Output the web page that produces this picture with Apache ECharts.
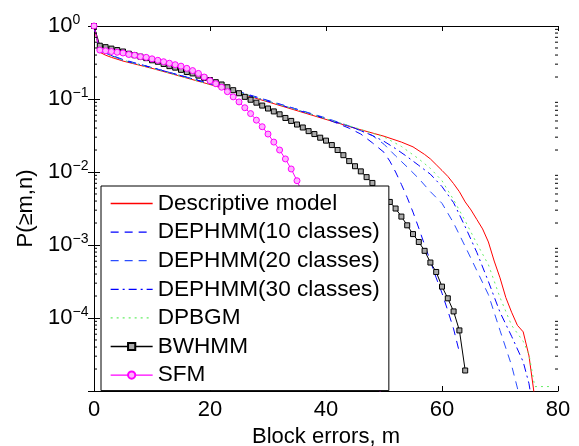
<!DOCTYPE html>
<html>
<head>
<meta charset="utf-8">
<script src="https://cdn.jsdelivr.net/npm/echarts@6/dist/echarts.min.js"></script>
<style>
html, body { margin: 0; padding: 0; background: #fff; }
#chart { width: 579px; height: 446px; }
</style>
</head>
<body>
<div id="chart"></div>
<script>
// values, [m, P(>=m,n)]
var descriptive = [[0,1],[1,0.437],[2,0.398],[3,0.372],[5,0.331],[10,0.263],[15,0.204],[20,0.158],[25,0.120],
  [30,0.0912],[35,0.0692],[40,0.0525],[45,0.0398],[50,0.0309],[53,0.0257],[55,0.0221],[57,0.0174],[58,0.0151],
  [59,0.0126],[60,0.0105],[61,0.00871],[62,0.00692],[63,0.00537],[64,0.00389],[65,0.00302],[66,0.00224],
  [67,0.00166],[68,0.00110],[69,0.000603],[70,0.000355],[71,0.000191],[72,0.000120],[73,0.0000794],
  [74,0.0000646],[75,0.0000302],[76,0.0000079]];

var dephmm10 = [[0,1],[1,0.457],[5,0.347],[10,0.269],[15,0.209],[20,0.162],[25,0.126],[30,0.0955],[35,0.0724],
  [40,0.0537],[44,0.0398],[46,0.0331],[48,0.0251],[50,0.0186],[51,0.0141],[52,0.0100],[53,0.00676],[54,0.00447],
  [55,0.00282],[56,0.00170],[57,0.00100],[58,0.000603],[59,0.000355],[60,0.000219],[61,0.000126],[62,0.0000708],
  [63,0.0000339]];

var dephmm20 = [[0,1],[1,0.457],[5,0.339],[10,0.269],[15,0.209],[20,0.162],[25,0.123],[30,0.0933],[35,0.0724],
  [40,0.0550],[44,0.0427],[48,0.0316],[50,0.0240],[52,0.0166],[54,0.0117],[56,0.00813],[58,0.00537],[60,0.00372],
  [62,0.00200],[64,0.000955],[66,0.000447],[68,0.000209],[70,0.0000676],[72,0.0000224],[73,0.0000110],[74,0.0000050]];

var dephmm30 = [[0,1],[1,0.457],[5,0.339],[10,0.269],[15,0.209],[20,0.162],[25,0.123],[30,0.0933],[35,0.0708],
  [40,0.0537],[45,0.0398],[48,0.0316],[50,0.0263],[52,0.0209],[54,0.0162],[56,0.0123],[58,0.00933],[60,0.00631],
  [62,0.00380],[64,0.00178],[66,0.000794],[68,0.000316],[70,0.000120],[72,0.0000562],[74,0.0000251],[75,0.0000126],
  [76,0.0000040]];

var dpbgm = [[0,1],[1,0.447],[5,0.339],[10,0.263],[15,0.204],[20,0.158],[25,0.123],[30,0.0933],[35,0.0708],
  [40,0.0537],[45,0.0407],[50,0.0302],[53,0.0224],[56,0.0151],[58,0.0112],[60,0.00759],[62,0.00417],[64,0.00214],
  [66,0.00105],[68,0.000537],[70,0.000191],[72,0.0000794],[74,0.0000479],[75,0.0000316],[76,0.0000115],
  [77,0.0000115],[78,0.0000115],[79,0.0000115]];

// one value per block-error count m = 0..64
var bwhmm = [1,0.537,0.513,0.490,0.468,0.447,0.417,0.398,0.380,0.363,0.339,0.324,0.302,0.282,0.269,0.251,
  0.234,0.224,0.209,0.195,0.182,0.170,0.158,0.145,0.132,0.120,0.107,0.0977,0.0891,0.0813,0.0741,0.0676,0.0617,
  0.0550,0.0501,0.0447,0.0407,0.0363,0.0331,0.0295,0.0269,0.0234,0.0200,0.0170,0.0141,0.0120,0.0102,0.00851,
  0.00708,0.00575,0.00468,0.00389,0.00316,0.00245,0.00186,0.00141,0.00110,0.000832,0.000575,0.000427,0.000269,
  0.000186,0.000123,0.0000676,0.0000191];

// m = 0..50
var sfm = [1,0.468,0.457,0.447,0.437,0.427,0.407,0.398,0.380,0.372,0.355,0.339,0.324,0.309,0.295,0.282,0.263,
  0.245,0.224,0.200,0.178,0.162,0.145,0.126,0.107,0.0912,0.0759,0.0631,0.0513,0.0417,0.0331,0.0257,0.0200,0.0151,
  0.0110,0.00759,0.00501,0.00331,0.00219,0.00141,0.000912,0.000589,0.000372,0.000234,0.000145,0.0000891,0.0000550,
  0.0000331,0.0000200,0.0000117,0.0000069];

var names = ['Descriptive model', 'DEPHMM(10 classes)', 'DEPHMM(20 classes)', 'DEPHMM(30 classes)', 'DPBGM', 'BWHMM', 'SFM'];
var colors = ['#ff0000', '#0000ff', '#2a4dff', '#0000ff', '#66ee66', '#000000', '#ff00ff'];
var dashes = ['solid', [8, 6], [8, 6], [8, 4, 2, 4], [2, 4], 'solid', 'solid'];
var xTicks = [0, 20, 40, 60, 80];
var minorTicks = [];
[1e-5, 1e-4, 1e-3, 1e-2, 1e-1].forEach(function (d) {
  for (var k = 2; k <= 9; k++) minorTicks.push([0, k * d]);
});

var F = '"Liberation Sans", Arial, Helvetica, sans-serif';

function indexed(arr) {
  return arr.map(function (v, i) { return [i, v]; });
}

function lineSeries(i, data, extra) {
  var s = {
    name: names[i],
    type: 'line',
    data: data,
    symbol: 'none',
    lineStyle: { color: colors[i], width: 1, type: dashes[i] },
    itemStyle: { color: colors[i] },
    animation: false,
    z: 3
  };
  for (var k in extra) s[k] = extra[k];
  return s;
}

var legendData = names.map(function (n, i) {
  var item = { name: n, lineStyle: { color: colors[i], width: 1.3, type: dashes[i], opacity: 1 } };
  if (i < 5) item.itemStyle = { opacity: 0 };
  return item;
});

var chart = echarts.init(document.getElementById('chart'));

var option = {
  backgroundColor: '#fff',
  animation: false,
  grid: { left: 94, right: 21, top: 26, bottom: 55, outerBoundsMode: 'none' },
  legend: {
    left: 101,
    top: 186,
    orient: 'vertical',
    selectedMode: false,
    backgroundColor: '#fff',
    borderColor: '#000',
    borderWidth: 1,
    borderRadius: 0,
    padding: [6, 9, 4, 9],
    itemWidth: 42,
    itemHeight: 9,
    itemGap: 5.6,
    textStyle: { fontSize: 22.6, lineHeight: 22, fontFamily: F, color: '#000' },
    data: legendData,
    z: 10
  },
  xAxis: [{
    type: 'value',
    min: 0, max: 80, interval: 20,
    name: 'Block errors, m',
    nameLocation: 'middle',
    nameGap: 29,
    nameTextStyle: { fontSize: 22, fontFamily: F, color: '#000' },
    axisLine: { lineStyle: { color: '#000', width: 1 } },
    axisTick: { inside: true, length: 5, lineStyle: { color: '#000' } },
    axisLabel: { fontSize: 22, fontFamily: F, color: '#000', margin: 8,
      formatter: function (v) { return xTicks.indexOf(v) >= 0 ? String(v) : ''; } },
    splitLine: { show: false }
  }, {
    type: 'value',
    position: 'top',
    min: 0, max: 80, interval: 20,
    axisLine: { lineStyle: { color: '#000', width: 1 } },
    axisTick: { inside: true, length: 5, lineStyle: { color: '#000' } },
    axisLabel: { show: false },
    splitLine: { show: false }
  }],
  yAxis: [{
    type: 'log',
    logBase: 10,
    min: 1e-5, max: 1,
    splitNumber: 5,
    name: 'P(\u2265m,n)',
    nameLocation: 'middle',
    nameGap: 57,
    nameTextStyle: { fontSize: 22, fontFamily: F, color: '#000' },
    axisLine: { show: true, lineStyle: { color: '#000', width: 1 } },
    axisTick: { show: true, inside: true, length: 6, lineStyle: { color: '#000' } },
    axisLabel: {
      align: 'left',
      margin: 46,
      formatter: function (v) {
        var e = Math.round(Math.log10(v));
        if (e === -5) return '';
        return '{b|10}{s|' + (e < 0 ? '\u2212' + (-e) : e) + '}';
      },
      rich: {
        b: { fontSize: 22, fontFamily: F, color: '#000' },
        s: { fontSize: 14, fontFamily: F, color: '#000', verticalAlign: 'top', padding: [0, 0, 12, 0] }
      }
    },
    splitLine: { show: false }
  }, {
    type: 'log',
    logBase: 10,
    min: 1e-5, max: 1,
    splitNumber: 5,
    position: 'right',
    axisLine: { show: true, lineStyle: { color: '#000', width: 1 } },
    axisTick: { show: true, inside: true, length: 6, lineStyle: { color: '#000' } },
    axisLabel: { show: false },
    splitLine: { show: false }
  }],
  series: [
    lineSeries(0, descriptive),
    lineSeries(1, dephmm10),
    lineSeries(2, dephmm20),
    lineSeries(3, dephmm30),
    lineSeries(4, dpbgm),
    lineSeries(5, indexed(bwhmm), {
      symbol: 'rect', symbolSize: 5, showSymbol: true,
      itemStyle: { color: '#aaaaaa', borderColor: '#000', borderWidth: 1 }
    }),
    lineSeries(6, indexed(sfm), {
      symbol: 'circle', symbolSize: 6, showSymbol: true,
      itemStyle: { color: '#ffb0ff', borderColor: '#ff00ff', borderWidth: 1 }
    }),
    {
      type: 'custom',
      data: minorTicks,
      silent: true,
      animation: false,
      clip: false,
      z: 4,
      renderItem: function (params, api) {
        var l = api.coord([0, api.value(1)]);
        var r = api.coord([80, api.value(1)]);
        return {
          type: 'group',
          children: [
            { type: 'line', shape: { x1: l[0], y1: l[1], x2: l[0] + 3, y2: l[1] }, style: { stroke: '#000', lineWidth: 1 } },
            { type: 'line', shape: { x1: r[0] - 3, y1: r[1], x2: r[0], y2: r[1] }, style: { stroke: '#000', lineWidth: 1 } }
          ]
        };
      }
    }
  ]
};

chart.setOption(option);
</script>
</body>
</html>
